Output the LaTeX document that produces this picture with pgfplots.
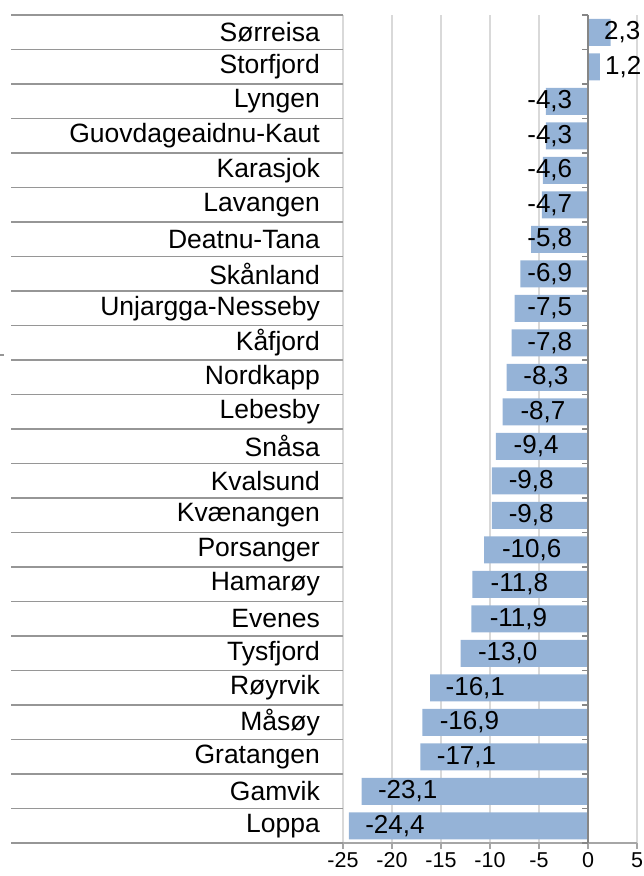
\documentclass[border=0pt]{standalone}
\usepackage{pgfplots}
\usepackage{pgfplotstable}
\pgfplotsset{compat=1.18}
\usepackage{fontspec}
\setmainfont{Liberation Sans}
\definecolor{barblue}{HTML}{95B3D7}
\definecolor{gridgray}{HTML}{D9D9D9}
\definecolor{axgray}{HTML}{868686}
\definecolor{sepgray}{HTML}{969696}

\pgfplotstableread{
y    val    lx     lab
0.5  2.3    3.5    2,3
1.5  1.2    3.6    1,2
2.5  -4.3   -3.9   -4,3
3.5  -4.3   -3.9   -4,3
4.5  -4.6   -3.9   -4,6
5.5  -4.7   -3.9   -4,7
6.5  -5.8   -3.9   -5,8
7.5  -6.9   -3.9   -6,9
8.5  -7.5   -3.9   -7,5
9.5  -7.8   -3.9   -7,8
10.5 -8.3   -4.3   -8,3
11.5 -8.7   -4.6   -8,7
12.5 -9.4   -5.3   -9,4
13.5 -9.8   -5.8   -9,8
14.5 -9.8   -5.8   -9,8
15.5 -10.6  -5.75  -10,6
16.5 -11.8  -7.0   -11,8
17.5 -11.9  -7.1   -11,9
18.5 -13.0  -8.2   -13,0
19.5 -16.1  -11.5  -16,1
20.5 -16.9  -12.1  -16,9
21.5 -17.1  -12.4  -17,1
22.5 -23.1  -18.4  -23,1
23.5 -24.4  -19.7  -24,4
}\datatable

\begin{document}
\begin{tikzpicture}
\useasboundingbox (0,0) rectangle (644pt,876pt);
\begin{axis}[
  at={(343pt,33pt)}, anchor=south west,
  scale only axis, width=294pt, height=828pt,
  xmin=-25, xmax=5, ymin=0, ymax=24,
  y dir=reverse,
  enlargelimits=false,
  clip=false,
  axis x line*=bottom, axis y line*=left,
  x axis line style={-, draw=gray!70, line width=1.2pt},
  every outer y axis line/.append style={draw=none},
  y axis line style={draw=none},
  xtick={-25,-20,-15,-10,-5,0,5},
  xticklabels={-25,-20,-15,-10,-5,0,5},
  tick align=outside,
  major tick length=6pt,
  xtick style={draw=gray!70, line width=1.2pt},
  xticklabel style={font=\fontsize{21.5}{24}\selectfont, text=black},
  xmajorgrids=true,
  grid style={draw=gridgray, line width=1.6pt},
  ytick={0.5,1.5,...,23.5},
  ytick style={draw=none},
  yticklabels={Sørreisa,Storfjord,Lyngen,Guovdageaidnu-Kaut,Karasjok,Lavangen,Deatnu-Tana,Skånland,Unjargga-Nesseby,Kåfjord,Nordkapp,Lebesby,Snåsa,Kvalsund,Kvænangen,Porsanger,Hamarøy,Evenes,Tysfjord,Røyrvik,Måsøy,Gratangen,Gamvik,Loppa},
  yticklabel style={font=\fontsize{26.5}{30}\selectfont, text=black, anchor=east, inner sep=0pt, xshift=-17pt},
]
\addplot[xbar, bar width=27pt, fill=barblue, draw=none] table[x=val, y=y]{\datatable};
\draw[axgray, line width=1.6pt] (axis cs:0,0) -- (axis cs:0,24);
\pgfplotsinvokeforeach{0,1,2,3,4,5,6,7,8,9,10,11,12,13,14,15,16,17,18,19,20,21,22,23,24}{
  \draw[axgray, line width=1.4pt] (axis cs:0,#1) -- ++(-6pt,0pt);
  \draw[sepgray, line width=1.5pt] (axis cs:-25,#1) -- ++(-332pt,0pt);
}
\addplot[draw=none, mark=none, nodes near coords, point meta=explicit symbolic,
  every node near coord/.append style={anchor=center, font=\fontsize{26}{30}\selectfont, text=black, inner sep=0pt}]
  table[x=lx, y=y, meta=lab]{\datatable};
\end{axis}
\draw[sepgray, line width=1.5pt] (0pt,521pt) -- (4pt,521pt);
\end{tikzpicture}
\end{document}
